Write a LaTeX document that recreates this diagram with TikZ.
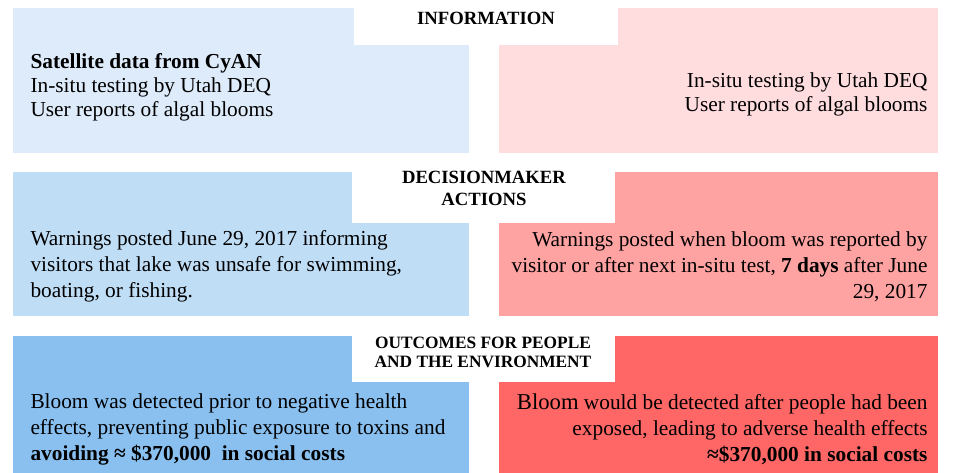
\documentclass[tikz,border=0pt]{standalone}
\usepackage{fontspec}
\setmainfont{Liberation Serif}

\definecolor{infoblue}{RGB}{222,235,250}
\definecolor{infopink}{RGB}{255,221,223}
\definecolor{actblue}{RGB}{192,221,246}
\definecolor{actpink}{RGB}{255,162,162}
\definecolor{outblue}{RGB}{137,192,240}
\definecolor{outpink}{RGB}{255,102,102}

\tikzset{every picture/.style={line width=0.75pt}}
\tikzset{
	head text/.style={inner sep=0pt, align=center, font=\fontsize{14}{17}\selectfont\bfseries},
	left text/.style={anchor=west, inner sep=0pt, align=left, font=\fontsize{16}{18}\selectfont},
	right text/.style={anchor=east, inner sep=0pt, align=right, font=\fontsize{16}{18}\selectfont},
	wide lines/.style={font=\fontsize{16}{19.5}\selectfont}}

\begin{document}
\begin{tikzpicture}[x=0.75pt,y=0.75pt,yscale=-1,xscale=1]
	\useasboundingbox (0,0) rectangle (953,473);

	%Shape: Rectangle [id:information row]
	\fill [infoblue] (13,8) rectangle (469,153) ;
	\fill [infopink] (499,8) rectangle (938,153) ;
	\fill [white] (354,0) rectangle (618,45) ;
	%Shape: Rectangle [id:actions row]
	\fill [actblue] (13,172) rectangle (469,316) ;
	\fill [actpink] (499,172) rectangle (938,316) ;
	\fill [white] (352,160) rectangle (615,223) ;
	%Shape: Rectangle [id:outcomes row]
	\fill [outblue] (13,336) rectangle (469,473) ;
	\fill [outpink] (499,336) rectangle (938,473) ;
	\fill [white] (352,325) rectangle (615,382) ;

	% Text Node
	\node [head text] (info) at (486,18) {INFORMATION};
	% Text Node
	\node [head text] (actions) at (484,188.5) {DECISIONMAKER\\ACTIONS};
	% Text Node
	\node [head text, font=\fontsize{13}{14.5}\selectfont\bfseries] (outcomes) at (483,352.5) {OUTCOMES FOR PEOPLE\\AND THE ENVIRONMENT};

	% Text Node
	\node [left text] (cyanInfo) at (30,87) {\textbf{Satellite data from CyAN}\\In-situ testing by Utah DEQ\\User reports of algal blooms};
	% Text Node
	\node [right text] (noCyanInfo) at (928,94) {In-situ testing by Utah DEQ\\User reports of algal blooms};

	% Text Node
	\node [left text, wide lines] (cyanAction) at (30,266.5) {Warnings posted June 29, 2017 informing\\visitors that lake was unsafe for swimming,\\boating, or fishing.};
	% Text Node
	\node [right text, wide lines] (noCyanAction) at (928,266.5) {Warnings posted when bloom was reported by\\visitor or after next in-situ test, \textbf{7 days} after June\\29, 2017};

	% Text Node
	\node [left text, wide lines] (cyanOutcome) at (30,429) {Bloom was detected prior to negative health\\effects, preventing public exposure to toxins and\\\textbf{avoiding ≈ \$370,000\ \ in social costs}};
	% Text Node
	\node [right text, wide lines] (noCyanOutcome) at (928,429) {{\fontsize{17}{19.5}\selectfont Bloom} would be detected after people had been\\exposed, leading to adverse health effects\\\textbf{≈\$370,000 in social costs}};

\end{tikzpicture}
\end{document}
